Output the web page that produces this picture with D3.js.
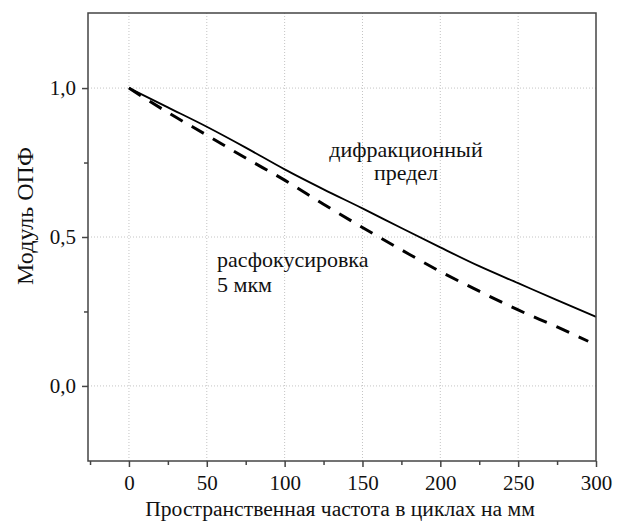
<!DOCTYPE html>
<html>
<head>
<meta charset="utf-8">
<script src="https://cdn.jsdelivr.net/npm/d3@7"></script>
<style>
  body { margin: 0; background: #fff; }
  svg text { font-family: "Liberation Serif", "Times New Roman", serif; fill: #111; }
</style>
</head>
<body>
<svg id="chart" width="621" height="523"></svg>
<script>
// data
var freq = [0, 25, 50, 75, 100, 125, 150, 175, 200, 225, 250, 275, 300];
var diffLimit = [1.0, 0.935, 0.870, 0.800, 0.727, 0.660, 0.596, 0.530, 0.465, 0.402, 0.345, 0.288, 0.232];
var defocusFreq = [0, 25, 50, 75, 100, 125, 150, 175, 200, 225, 250, 275, 295];
var defocus = [1.0, 0.918, 0.842, 0.765, 0.691, 0.610, 0.532, 0.457, 0.384, 0.318, 0.255, 0.198, 0.150];
var xTicks = [0, 50, 100, 150, 200, 250, 300];
var xMinor = [-25, 25, 75, 125, 175, 225, 275];
var yTicks = [0, 0.5, 1.0];
var yMinor = [0.25, 0.75];

/*************************************************************************/

var svg = d3.select('#chart');
var plotL = 88, plotR = 596, plotT = 13, plotB = 461;

var xScale = d3.scaleLinear().domain([-26.3, 300]).range([plotL, plotR]);
var yScale = d3.scaleLinear().domain([-0.252, 1.252]).range([plotB, plotT]);
var fmt = function(d){ return d3.format('.1f')(d).replace('.', ','); };

// grid
var grid = svg.append('g');
grid.selectAll('.gx').data(xTicks.filter(d => d < 300)).enter().append('line')
  .attr('x1', d => xScale(d)).attr('x2', d => xScale(d))
  .attr('y1', plotT).attr('y2', plotB)
  .style('stroke', '#c4c4c4').style('stroke-width', 1).style('stroke-dasharray', '1,2');
grid.selectAll('.gy').data(yTicks).enter().append('line')
  .attr('x1', plotL).attr('x2', plotR)
  .attr('y1', d => yScale(d)).attr('y2', d => yScale(d))
  .style('stroke', '#c4c4c4').style('stroke-width', 1).style('stroke-dasharray', '1,2');

// curves
var lineGen = d3.line().curve(d3.curveMonotoneX);
svg.append('path')
  .attr('d', lineGen(freq.map((d, i) => [xScale(d), yScale(diffLimit[i])])))
  .style('fill', 'none').style('stroke', '#000').style('stroke-width', 1.8);
svg.append('path')
  .attr('d', lineGen(defocusFreq.map((d, i) => [xScale(d), yScale(defocus[i])])))
  .style('fill', 'none').style('stroke', '#000').style('stroke-width', 3)
  .style('stroke-dasharray', '14,10.5');

// frame
svg.append('rect').attr('x', plotL).attr('y', plotT)
  .attr('width', plotR - plotL).attr('height', plotB - plotT)
  .style('fill', 'none').style('stroke', '#444').style('stroke-width', 1.5);

// axes
var xAxis = svg.append('g').attr('transform', 'translate(0,' + plotB + ')')
  .call(d3.axisBottom(xScale).tickValues(xTicks).tickFormat(d3.format('d')).tickSize(6).tickPadding(8));
var xAxisMinor = svg.append('g').attr('transform', 'translate(0,' + plotB + ')')
  .call(d3.axisBottom(xScale).tickValues(xMinor).tickFormat('').tickSize(4));
var yAxis = svg.append('g').attr('transform', 'translate(' + plotL + ',0)')
  .call(d3.axisLeft(yScale).tickValues(yTicks).tickFormat(fmt).tickSize(6).tickPadding(6));
var yAxisMinor = svg.append('g').attr('transform', 'translate(' + plotL + ',0)')
  .call(d3.axisLeft(yScale).tickValues(yMinor).tickFormat('').tickSize(4));

[xAxis, xAxisMinor, yAxis, yAxisMinor].forEach(function(a){
  a.select('.domain').remove();
  a.selectAll('line').style('stroke', '#444').style('stroke-width', 1.5);
  a.selectAll('text').style('font-family', '"Liberation Serif", serif').style('font-size', '21px').style('fill', '#111');
});

// labels
svg.append('text').attr('x', (plotL + plotR) / 2 - 2).attr('y', 516)
  .attr('text-anchor', 'middle').style('font-size', '21.6px')
  .text('Пространственная частота в циклах на мм');
svg.append('text').attr('transform', 'translate(33,216) rotate(-90)')
  .attr('text-anchor', 'middle').style('font-size', '24px')
  .text('Модуль ОПФ');

svg.append('text').attr('x', 406).attr('y', 157).attr('text-anchor', 'middle')
  .style('font-size', '22px').text('дифракционный');
svg.append('text').attr('x', 406).attr('y', 180).attr('text-anchor', 'middle')
  .style('font-size', '22px').text('предел');
svg.append('text').attr('x', 217).attr('y', 267)
  .style('font-size', '22px').text('расфокусировка');
svg.append('text').attr('x', 217).attr('y', 292)
  .style('font-size', '22px').text('5 мкм');
</script>
</body>
</html>
